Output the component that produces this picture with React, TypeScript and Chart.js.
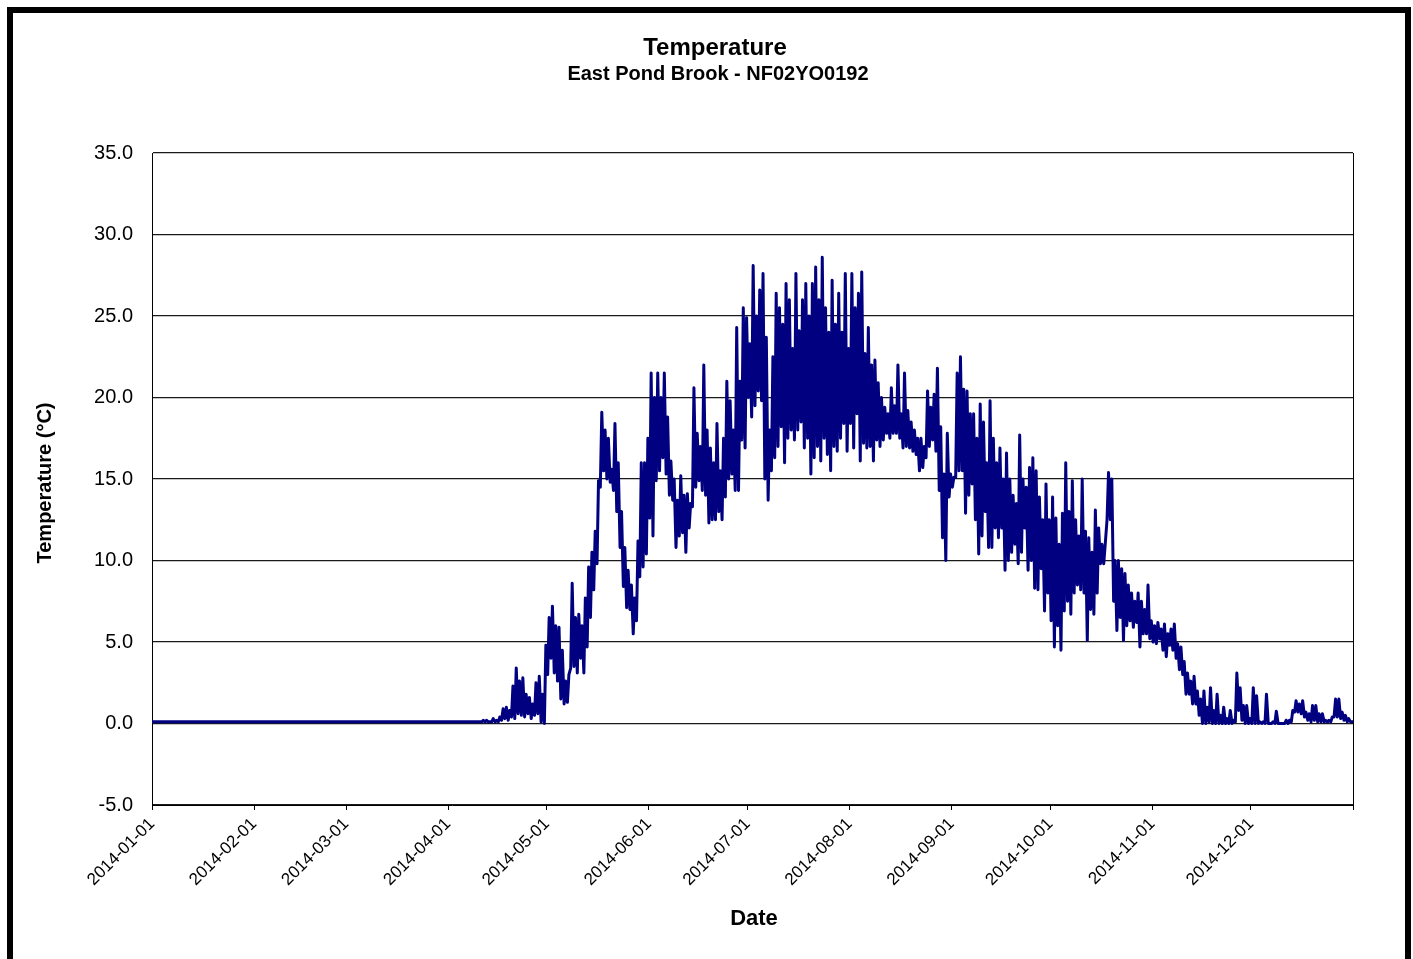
import React, { useEffect, useRef } from 'react';
import { Chart, registerables } from 'chart.js';

Chart.register(...registerables);

const chartTitle = 'Temperature';
const chartSubtitle = 'East Pond Brook - NF02YO0192';
const xAxisTitle = 'Date';
const yAxisTitle = 'Temperature (°C)';

const monthStartDays = [0, 31, 59, 90, 120, 151, 181, 212, 243, 273, 304, 334, 365];
const monthLabels = [
  '2014-01-01', '2014-02-01', '2014-03-01', '2014-04-01', '2014-05-01', '2014-06-01',
  '2014-07-01', '2014-08-01', '2014-09-01', '2014-10-01', '2014-11-01', '2014-12-01', '',
];

const yMin = -5;
const yMax = 35;
const yStep = 5;

// Ice-covered winter period: logger reads ~0.1 °C
const winterDays = [0, 99.6];
const winterTemps = [0.1, 0.1];

// Daily low / high from day-of-year 100 (2014-04-11) to 364 (2014-12-31)
const firstActiveDay = 100;
const dailyLow = [
  0.1, 0.1, 0.1, 0.1, 0.1, 0.1, 0.2, 0.3, 0.2, 0.4, // 100-109
  0.3, 0.6, 0.5, 0.4, 0.6, 0.3, 0.5, 0.6, 0.1, 0.0, // 110-119
  3.0, 4.0, 3.1, 2.6, 1.5, 1.2, 1.3, 3.4, 3.5, 3.1, // 120-129
  4.0, 3.1, 4.7, 6.5, 8.2, 9.8, 14.5, 15.5, 15.0, 14.8, // 130-139
  14.3, 13.0, 10.8, 8.4, 7.1, 7.0, 5.5, 6.3, 9.0, 9.6, // 140-149
  10.4, 12.6, 11.5, 14.9, 15.5, 16.3, 15.3, 14.0, 13.7, 10.8, // 150-159
  11.5, 11.7, 10.5, 12.0, 13.3, 14.5, 14.9, 14.3, 14.0, 12.3, // 160-169
  12.5, 12.5, 13.0, 12.5, 13.9, 15.0, 15.3, 14.3, 14.3, 17.4, // 170-179
  16.9, 20.0, 18.8, 19.5, 20.4, 19.8, 15.0, 13.7, 15.5, 16.3, // 180-189
  17.0, 18.2, 16.0, 17.5, 18.0, 17.4, 18.0, 18.5, 16.9, 17.5, // 190-199
  15.3, 16.3, 17.0, 16.1, 17.5, 16.5, 15.5, 17.0, 16.7, 17.5, // 200-209
  18.4, 16.7, 18.4, 16.9, 19.0, 16.1, 17.2, 16.9, 17.0, 16.1, // 210-219
  17.4, 17.0, 17.4, 17.8, 17.5, 17.8, 17.8, 17.5, 16.9, 17.0, // 220-229
  16.9, 16.7, 16.5, 15.5, 15.7, 16.3, 17.0, 17.4, 16.7, 14.3, // 230-239
  11.4, 10.0, 13.9, 14.5, 15.1, 15.5, 15.5, 12.9, 14.0, 14.7, // 240-249
  12.5, 10.4, 11.5, 13.0, 10.8, 10.8, 12.0, 11.4, 12.0, 9.4, // 250-259
  10.0, 10.5, 11.0, 9.8, 10.5, 12.0, 9.4, 10.0, 8.3, 8.2, // 260-269
  9.5, 6.9, 8.0, 6.3, 4.7, 6.0, 4.5, 6.9, 7.5, 6.7, // 270-279
  8.0, 8.5, 8.2, 8.0, 5.1, 7.0, 6.7, 8.0, 9.8, 9.8, // 280-289
  12.5, 12.5, 7.5, 5.7, 6.5, 5.1, 6.0, 6.3, 5.9, 6.2, // 290-299
  4.7, 5.5, 5.5, 5.2, 5.0, 4.9, 5.2, 4.5, 4.1, 4.8, // 300-309
  4.5, 4.0, 3.3, 3.0, 1.8, 1.8, 1.2, 1.2, 0.5, 0.0, // 310-319
  0.0, 0.1, 0.0, 0.0, 0.0, 0.0, 0.0, 0.0, 0.0, 0.1, // 320-329
  0.8, 0.2, 0.0, 0.0, 0.0, 0.0, 0.0, 0.0, 0.0, 0.0, // 330-339
  0.0, 0.0, 0.0, 0.0, 0.0, 0.0, 0.1, 0.7, 0.7, 0.6, // 340-349
  0.4, 0.2, 0.1, 0.2, 0.1, 0.1, 0.1, 0.1, 0.1, 0.4, // 350-359
  0.4, 0.3, 0.2, 0.1, 0.1, // 360-364
];
const dailyHigh = [
  0.2, 0.2, 0.1, 0.3, 0.2, 0.4, 0.9, 1.0, 0.8, 2.3, // 100-109
  3.4, 2.6, 2.8, 1.8, 1.6, 1.2, 2.5, 2.9, 1.8, 4.8, // 110-119
  6.5, 7.2, 6.0, 5.9, 4.5, 2.6, 3.0, 8.6, 6.5, 6.7, // 120-129
  6.0, 7.7, 9.6, 10.5, 11.8, 14.9, 19.1, 18.0, 17.5, 15.6, // 130-139
  18.4, 16.0, 13.0, 10.8, 9.4, 8.5, 7.7, 11.2, 16.0, 16.0, // 140-149
  17.5, 21.5, 20.0, 21.5, 20.0, 21.5, 18.8, 16.1, 15.0, 13.7, // 150-159
  15.2, 14.0, 14.1, 13.5, 20.6, 17.8, 17.0, 22.0, 18.0, 16.9, // 160-169
  16.0, 18.4, 15.5, 17.5, 21.0, 19.8, 18.0, 24.3, 21.0, 25.5, // 170-179
  24.9, 23.3, 28.1, 25.0, 26.6, 27.6, 23.7, 18.0, 22.5, 26.4, // 180-189
  25.5, 24.5, 27.0, 26.0, 23.0, 27.6, 24.1, 26.0, 27.0, 25.0, // 190-199
  27.0, 28.0, 26.0, 28.6, 25.5, 24.0, 27.2, 24.5, 26.4, 24.0, // 200-209
  27.6, 23.0, 27.6, 25.5, 26.4, 27.7, 22.7, 24.3, 22.0, 22.3, // 210-219
  20.9, 20.0, 19.4, 19.0, 20.6, 19.5, 22.0, 19.0, 21.5, 19.2, // 220-229
  18.5, 18.0, 17.5, 17.5, 17.0, 20.4, 19.4, 20.2, 21.8, 18.2, // 230-239
  15.3, 17.8, 15.3, 15.1, 21.5, 22.5, 20.5, 20.4, 19.0, 19.0, // 240-249
  17.5, 19.6, 18.5, 16.0, 19.8, 17.5, 16.0, 16.9, 15.0, 16.6, // 250-259
  15.0, 14.0, 13.5, 17.7, 15.0, 14.5, 15.7, 16.3, 15.5, 13.9, // 260-269
  12.5, 14.7, 12.5, 13.9, 12.6, 11.0, 12.9, 16.0, 13.0, 14.9, // 270-279
  12.5, 11.5, 15.0, 11.8, 11.4, 10.5, 13.1, 12.0, 11.0, 11.0, // 280-289
  15.4, 15.0, 10.0, 10.0, 9.5, 9.2, 8.5, 8.0, 7.5, 8.0, // 290-299
  7.5, 7.0, 8.5, 6.3, 6.0, 6.2, 5.8, 6.1, 5.5, 5.8, // 300-309
  6.1, 4.9, 4.7, 3.8, 3.1, 2.6, 2.9, 2.0, 1.5, 2.0, // 310-319
  1.0, 2.2, 0.8, 1.8, 0.5, 1.0, 0.3, 0.8, 0.2, 3.1, // 320-329
  2.2, 1.1, 1.1, 0.3, 2.2, 1.7, 0.1, 0.1, 1.8, 0.0, // 330-339
  0.1, 0.75, 0.0, 0.0, 0.2, 0.2, 0.8, 1.4, 1.2, 1.4, // 340-349
  0.7, 0.6, 1.1, 1.1, 0.6, 0.6, 0.2, 0.2, 0.4, 1.5, // 350-359
  1.5, 0.7, 0.5, 0.3, 0.1, // 360-364
];
const yearEndDay = 365;
const yearEndTemp = 0.1;

function buildPoints() {
  const pts: { x: number; y: number }[] = [];
  for (let i = 0; i < winterDays.length; i++) pts.push({ x: winterDays[i], y: winterTemps[i] });
  for (let i = 0; i < dailyLow.length; i++) {
    const d = firstActiveDay + i;
    pts.push({ x: d + 0.25, y: dailyLow[i] });
    pts.push({ x: d + 0.7, y: dailyHigh[i] });
  }
  pts.push({ x: yearEndDay, y: yearEndTemp });
  return pts;
}

const FONT = '"Liberation Sans", Arial, Helvetica, sans-serif';

const textPlugin = {
  id: 'textDecor',
  afterDraw(chart: any) {
    const ctx = chart.ctx;
    const area = chart.chartArea;
    ctx.save();
    ctx.strokeStyle = '#000';
    ctx.lineWidth = 1;
    ctx.beginPath();
    ctx.moveTo(area.right + 0.5, area.top);
    ctx.lineTo(area.right + 0.5, area.bottom);
    ctx.stroke();

    ctx.fillStyle = '#000';
    ctx.textAlign = 'center';
    ctx.textBaseline = 'middle';
    ctx.font = `bold 24px ${FONT}`;
    ctx.fillText(chartTitle, 715, 48);
    ctx.font = `bold 20px ${FONT}`;
    ctx.fillText(chartSubtitle, 718, 74);
    ctx.font = `bold 22px ${FONT}`;
    ctx.fillText(xAxisTitle, 754, 919);
    ctx.translate(45, 483);
    ctx.rotate(-Math.PI / 2);
    ctx.font = `bold 20px ${FONT}`;
    ctx.fillText(yAxisTitle, 0, 0);
    ctx.restore();
  },
};

export default function App() {
  const canvasRef = useRef<HTMLCanvasElement | null>(null);

  useEffect(() => {
    document.body.style.overflow = 'hidden';
    const canvas = canvasRef.current;
    if (!canvas) return;
    const chart = new Chart(canvas, {
      type: 'line',
      data: {
        datasets: [
          {
            label: 'Temperature',
            data: buildPoints(),
            borderColor: '#000080',
            backgroundColor: '#000080',
            borderWidth: 3,
            borderJoinStyle: 'round',
            borderCapStyle: 'round',
            pointRadius: 0,
            tension: 0,
            fill: false,
          },
        ],
      },
      options: {
        responsive: false,
        maintainAspectRatio: false,
        animation: false,
        devicePixelRatio: 1,
        layout: { padding: { top: 153, right: 60, bottom: 0, left: 0 } },
        plugins: {
          legend: { display: false },
          title: { display: false },
          tooltip: { enabled: false },
        },
        scales: {
          x: {
            type: 'linear',
            min: 0,
            max: 365,
            afterFit: (scale: any) => {
              scale.height = 154;
            },
            afterBuildTicks: (scale: any) => {
              scale.ticks = monthStartDays.map((v) => ({ value: v }));
            },
            grid: {
              display: true,
              drawOnChartArea: false,
              drawTicks: true,
              tickLength: 5,
              color: '#000',
              lineWidth: 1,
            },
            border: { display: true, color: '#000', width: 1 },
            ticks: {
              autoSkip: false,
              minRotation: 45,
              maxRotation: 45,
              padding: 4,
              color: '#000',
              font: { family: FONT, size: 17 },
              callback: (value: any) => {
                const idx = monthStartDays.indexOf(Number(value));
                return idx >= 0 ? monthLabels[idx] : '';
              },
            },
          },
          y: {
            type: 'linear',
            min: yMin,
            max: yMax,
            afterFit: (scale: any) => {
              scale.width = 152;
            },
            grid: {
              display: true,
              drawTicks: false,
              color: '#1a1a1a',
              lineWidth: 1.2,
            },
            border: { display: true, color: '#000', width: 1 },
            ticks: {
              stepSize: yStep,
              padding: 19,
              color: '#000',
              font: { family: FONT, size: 20 },
              callback: (value: any) => Number(value).toFixed(1),
            },
          },
        },
      },
      plugins: [textPlugin],
    } as any);
    return () => {
      chart.destroy();
    };
  }, []);

  return (
    <div style={{ position: 'fixed', left: 0, top: 0, width: 1413, height: 959, background: '#fff', overflow: 'hidden' }}>
      <canvas
        ref={canvasRef}
        width={1413}
        height={959}
        style={{ position: 'absolute', left: 0, top: 0, width: 1413, height: 959 }}
      />
      <div
        style={{
          position: 'absolute',
          left: 7,
          top: 7,
          width: 1404,
          height: 1000,
          border: '6px solid #000',
          boxSizing: 'border-box',
          pointerEvents: 'none',
        }}
      />
    </div>
  );
}
